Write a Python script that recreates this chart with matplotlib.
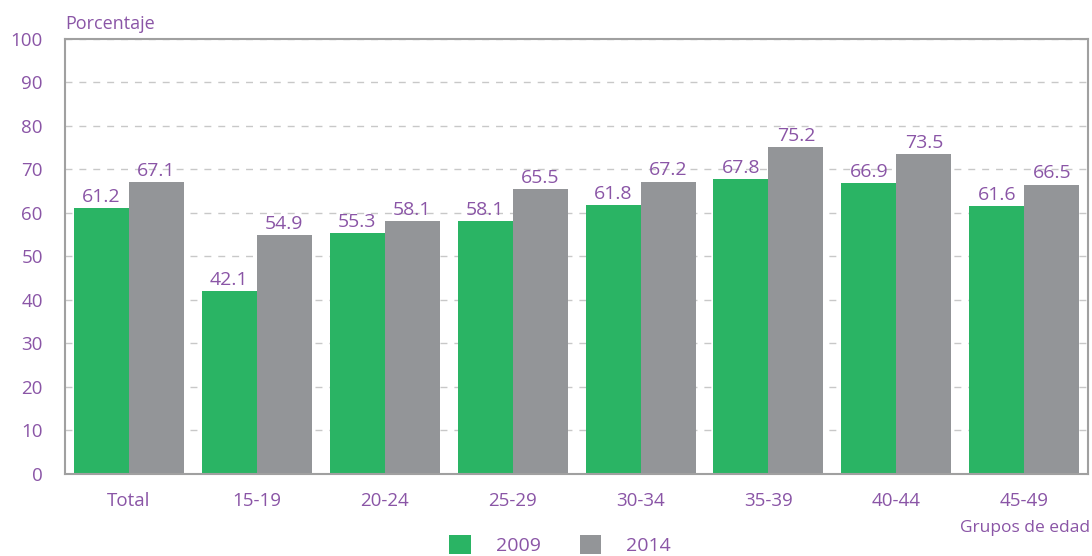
import numpy as np
import matplotlib.pyplot as plt

categories = ['Total', '15-19', '20-24', '25-29', '30-34', '35-39', '40-44', '45-49']
v2009 = [61.2, 42.1, 55.3, 58.1, 61.8, 67.8, 66.9, 61.6]
v2014 = [67.1, 54.9, 58.1, 65.5, 67.2, 75.2, 73.5, 66.5]
yticks = list(range(0, 101, 10))

purple = '#8a55a6'
green = '#2ab464'
grey = '#939598'
plt.rcParams['font.family'] = ['Open Sans', 'DejaVu Sans']

fig = plt.figure(figsize=(10.92, 5.56), dpi=100)
ax = fig.add_axes([0.0595, 0.1475, 0.937, 0.7826])
x = np.arange(len(categories))
w = 0.43
b1 = ax.bar(x - w/2, v2009, w, color=green, zorder=2, label='2009')
b2 = ax.bar(x + w/2, v2014, w, color=grey, zorder=2, label='2014')
for bars, vals in ((b1, v2009), (b2, v2014)):
    for r, v in zip(bars, vals):
        ax.text(r.get_x() + r.get_width()/2, v + 0.5, f'{v:.1f}', ha='center', va='bottom',
                color=purple, fontsize=14, zorder=3)

ax.set_xlim(-0.5, len(categories) - 0.5)
ax.set_ylim(0, 100)
ax.set_yticks(yticks)
ax.set_xticks(x)
ax.set_xticklabels(categories)
ax.tick_params(axis='both', length=0, colors=purple, labelsize=13.5)
ax.tick_params(axis='y', pad=16)
ax.tick_params(axis='x', pad=13)
ax.yaxis.grid(True, color='#c8c8c8', linestyle=(0, (5, 5)), linewidth=1, zorder=0)
for s in ax.spines.values():
    s.set_color('#a0a0a0')
    s.set_linewidth(1.5)

fig.text(0.0595, 0.94, 'Porcentaje', color=purple, fontsize=13, ha='left', va='bottom')
fig.text(0.998, 0.05, 'Grupos de edad', color=purple, fontsize=12.5, ha='right', va='center')
fig.legend(handles=[b1, b2], loc='lower center', bbox_to_anchor=(0.513, -0.03), ncol=2, frameon=False,
           fontsize=14, labelcolor=purple, handlelength=1.1, handleheight=1.1, columnspacing=2.0,
           handletextpad=1.3)
fig.savefig('out.png', dpi=100)
